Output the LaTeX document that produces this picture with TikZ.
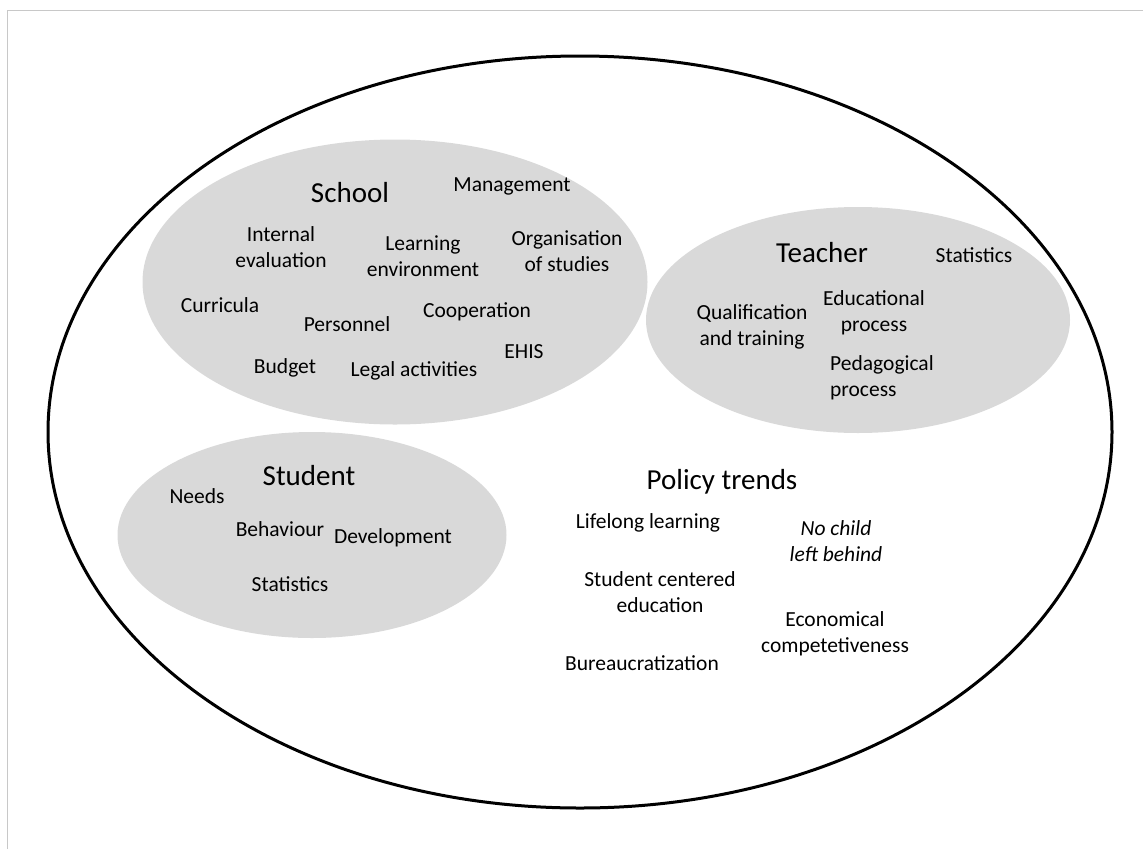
\documentclass[tikz,border=0pt]{standalone}
\usepackage{fontspec}
\setmainfont{Carlito}
\usetikzlibrary{shapes.geometric}
\definecolor{blobgray}{RGB}{217,217,217}
\definecolor{framegray}{RGB}{200,200,200}
\begin{document}
\begin{tikzpicture}[x=1pt,y=-1pt,
  blob/.style={ellipse, fill=blobgray, inner sep=0pt},
  heading/.style={font=\fontsize{29}{34}\selectfont, anchor=base, inner sep=0pt},
  item/.style={font=\fontsize{21.5}{26}\selectfont, anchor=base, inner sep=0pt, align=center},
]
\useasboundingbox (0,0) rectangle (1143,849);
% thin page frame
\draw[framegray, line width=1pt] (7,849) -- (7,10) -- (1143,10);

% grey topic areas
\node[blob, minimum width=505pt, minimum height=285pt] (school) at (395,282) {};
\node[blob, minimum width=424pt, minimum height=226pt] (teacher) at (858,320) {};
\node[blob, minimum width=389pt, minimum height=206pt] (student) at (312,535) {};

% surrounding context
\node[ellipse, draw, line width=3pt, inner sep=0pt,
      minimum width=1064pt, minimum height=752pt] (world) at (580,432) {};

% School (multi-line labels are placed by their last baseline)
\node[heading] (schoolT) at (350,202) {School};
\node[item] (mgmt) at (512,191) {Management};
\node[item] (inteval) at (281,267) {Internal\\evaluation};
\node[item] (learnenv) at (423,276) {Learning\\environment};
\node[item] (orgstud) at (567,271) {Organisation\\of studies};
\node[item] (curr) at (220,312) {Curricula};
\node[item] (pers) at (347,331) {Personnel};
\node[item] (coop) at (477,317) {Cooperation};
\node[item] (ehis) at (524,358) {EHIS};
\node[item] (budget) at (285,373) {Budget};
\node[item] (legal) at (414,376) {Legal activities};

% Teacher
\node[heading] (teacherT) at (822,262) {Teacher};
\node[item] (tstat) at (974,262) {Statistics};
\node[item] (qual) at (752,345) {Qualification\\and training};
\node[item] (eduproc) at (874,331) {Educational\\process};
\node[item, align=left, anchor=base west] (pedproc) at (830,396) {Pedagogical\\process};

% Student
\node[heading] (studentT) at (309,485) {Student};
\node[item] (needs) at (197,503) {Needs};
\node[item] (behav) at (280,536) {Behaviour};
\node[item] (devel) at (393,543) {Development};
\node[item] (sstat) at (290,591) {Statistics};

% Policy trends
\node[heading] (policyT) at (722,489) {Policy trends};
\node[item] (lifelong) at (648,528) {Lifelong learning};
\node[item, font=\fontsize{21.5}{26}\selectfont\itshape] (nochild) at (836,561) {No child\\left behind};
\node[item] (stucent) at (660,612) {Student centered\\education};
\node[item] (econ) at (835,652) {Economical\\competetiveness};
\node[item] (bureau) at (642,670) {Bureaucratization};
\end{tikzpicture}
\end{document}
